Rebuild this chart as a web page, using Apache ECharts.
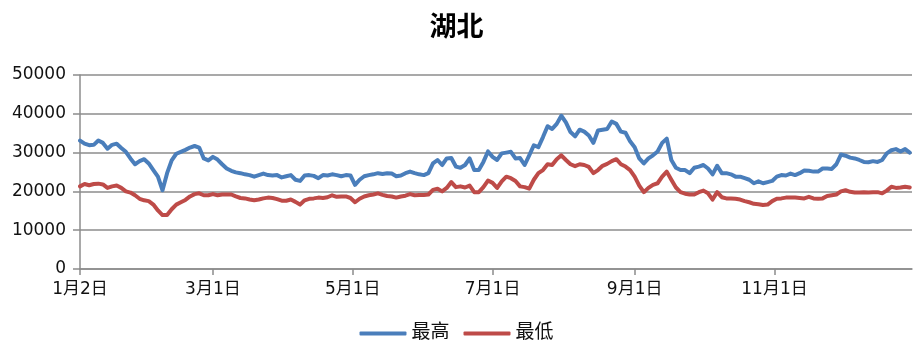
<!DOCTYPE html>
<html>
<head>
<meta charset="utf-8">
<script src="https://cdn.jsdelivr.net/npm/echarts@6/dist/echarts.min.js"></script>
<style>
  html, body { margin: 0; padding: 0; background: #fff; }
  #chart { width: 913px; height: 350px; }
</style>
</head>
<body>
<div id="chart"></div>
<script>
// 数据：从1月2日开始，每隔两天一个点
var year = 2019;
var stepDays = 2;

// 最高
var highData = [
  33100,32300,31900,32000,33100,32500,31000,32000,32300,31200,
  30200,28500,27000,27800,28300,27200,25500,23800,20300,24700,
  28000,29700,30200,30700,31300,31700,31300,28500,28000,28900,
  28200,27000,25900,25300,24900,24700,24400,24200,23800,24200,
  24600,24200,24100,24200,23600,23900,24200,23000,22700,24100,
  24200,24000,23400,24200,24100,24400,24200,23900,24200,24100,
  21700,23000,23900,24200,24400,24700,24500,24700,24600,23900,
  24100,24700,25100,24700,24400,24200,24700,27200,28100,26800,
  28500,28600,26400,26100,26800,28500,25500,25500,27600,30300,
  28900,28100,29800,30000,30200,28500,28600,26800,29300,31900,
  31400,34000,36800,36100,37400,39500,37800,35300,34200,35900,
  35400,34400,32500,35700,35900,36100,38000,37400,35400,35100,
  32900,31400,28500,27200,28500,29300,30300,32500,33600,28100,
  26100,25500,25500,24700,26100,26400,26800,25900,24400,26600,
  24700,24700,24400,23800,23800,23400,23000,22100,22600,22100,
  22400,22700,23800,24200,24100,24600,24200,24700,25400,25300,
  25100,25100,25900,25900,25800,27000,29500,29200,28700,28500,
  28100,27600,27500,27800,27600,28100,29800,30600,30900,30300,
  30900,30000
];

// 最低
var lowData = [
  21300,21900,21600,21900,22000,21800,20900,21300,21500,20900,
  20000,19700,19000,18100,17700,17500,16600,15100,13900,13900,
  15400,16600,17200,17800,18700,19300,19500,19000,19000,19300,
  19000,19200,19200,19200,18700,18300,18200,17900,17700,17900,
  18200,18400,18300,18000,17600,17600,17900,17300,16600,17700,
  18100,18200,18400,18300,18500,19000,18600,18700,18700,18300,
  17200,18100,18700,19000,19200,19500,19100,18800,18700,18400,
  18700,18900,19300,19000,19100,19100,19200,20400,20700,20000,
  20900,22400,21100,21300,21000,21500,19800,19800,21100,22800,
  22200,20900,22600,23800,23400,22700,21300,21100,20700,23000,
  24700,25500,27000,26800,28300,29300,28100,27000,26500,27000,
  26800,26300,24700,25500,26600,27100,27800,28300,27000,26400,
  25500,23800,21500,19800,20900,21700,22100,23800,25100,23000,
  21000,19800,19400,19200,19200,19800,20200,19500,17900,19800,
  18500,18200,18200,18100,17900,17500,17200,16800,16700,16500,
  16600,17500,18100,18200,18400,18400,18400,18300,18200,18600,
  18200,18100,18200,18800,19000,19200,20000,20300,19900,19700,
  19700,19800,19700,19800,19800,19500,20200,21200,20900,21000,
  21200,21000
];

// x轴刻度标签（月，日）
var tickDates = [[1, 2], [3, 1], [5, 1], [7, 1], [9, 1], [11, 1]];
var yTicks = [0, 10000, 20000, 30000, 40000, 50000];

var DAY = 86400000;
var t0 = Date.UTC(year, 0, 2);
// 以1月2日为0的天数
function dayOf(m, d) { return Math.round((Date.UTC(year, m - 1, d) - t0) / DAY); }
function labelOf(n) {
  var d = new Date(t0 + n * DAY);
  return (d.getUTCMonth() + 1) + '月' + d.getUTCDate() + '日';
}
function pairs(arr) {
  return arr.map(function (v, i) { return [i * stepDays, v]; });
}
var tickDays = tickDates.map(function (t) { return dayOf(t[0], t[1]); });

var gridColor = '#8c8c8c';
var fontNum = 'DejaVu Sans, Noto Sans CJK SC';

var chart = echarts.init(document.getElementById('chart'));
var option = {
  animation: false,
  title: {
    text: '湖北',
    left: 'center',
    top: 7,
    textStyle: { fontFamily: 'Noto Sans CJK SC', fontSize: 27, fontWeight: 'bold', color: '#000' }
  },
  legend: {
    bottom: 2,
    left: 'center',
    icon: 'roundRect',
    itemWidth: 47,
    itemHeight: 4,
    itemGap: 14,
    textStyle: { fontFamily: fontNum, fontSize: 19, color: '#111' },
    data: ['最高', '最低']
  },
  grid: { left: 80, right: 1, top: 75, bottom: 81 },
  xAxis: {
    type: 'value',
    min: 0,
    max: dayOf(12, 31),
    axisLine: { lineStyle: { color: gridColor, width: 1.5 } },
    axisTick: {
      show: true,
      length: 6,
      lineStyle: { color: gridColor, width: 1.5 },
      customValues: tickDays
    },
    axisLabel: {
      customValues: tickDays,
      formatter: function (v) { return labelOf(v); },
      fontFamily: fontNum,
      fontSize: 17,
      color: '#111',
      margin: 12
    },
    splitLine: { show: false }
  },
  yAxis: {
    type: 'value',
    min: yTicks[0],
    max: yTicks[yTicks.length - 1],
    interval: 10000,
    axisLine: { show: true, lineStyle: { color: gridColor, width: 1.5 } },
    axisTick: { show: true, length: 7, lineStyle: { color: gridColor, width: 1.5 } },
    axisLabel: {
      fontFamily: fontNum,
      fontSize: 17,
      color: '#111',
      margin: 14,
      formatter: function (v) { return String(v); }
    },
    splitLine: { lineStyle: { color: gridColor, width: 1.5 } }
  },
  series: [
    {
      name: '最高',
      type: 'line',
      symbol: 'none',
      data: pairs(highData),
      itemStyle: { color: '#4a7ebb' },
      lineStyle: { color: '#4a7ebb', width: 4, join: 'round', cap: 'round' }
    },
    {
      name: '最低',
      type: 'line',
      symbol: 'none',
      data: pairs(lowData),
      itemStyle: { color: '#be4b48' },
      lineStyle: { color: '#be4b48', width: 4, join: 'round', cap: 'round' }
    }
  ]
};
chart.setOption(option);
</script>
</body>
</html>
